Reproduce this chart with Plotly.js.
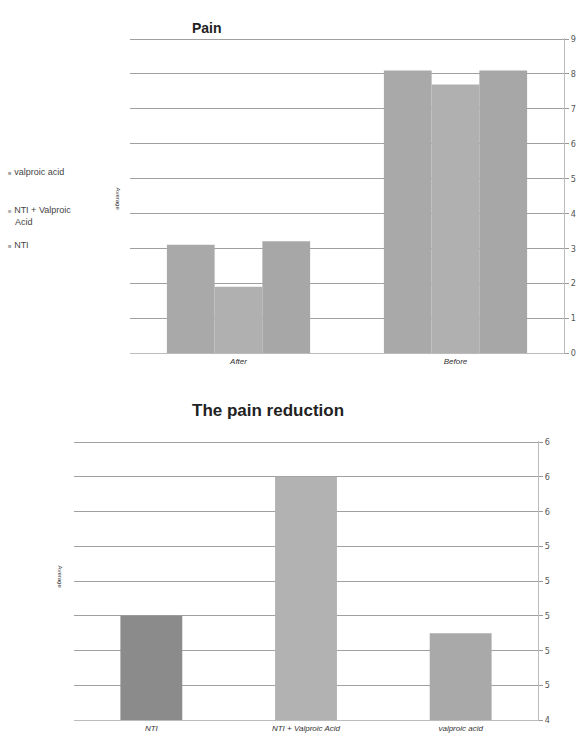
<!DOCTYPE html>
<html>
<head>
<meta charset="utf-8">
<script src="https://cdn.plot.ly/plotly-3.0.1.min.js"></script>
<style>html,body{margin:0;padding:0;background:#fff;}#chart{width:576px;height:741px;}</style>
</head>
<body>
<div id="chart"></div>
<script>
// Top chart: Pain (Average score)
const painCategories = ["After", "Before"];
const painNTI = [3.1, 8.1];
const painNTIVA = [1.9, 7.7];
const painVA = [3.2, 8.1];
const painSeriesNames = ["NTI", "NTI + Valproic<br>Acid", "valproic acid"];
const painTicks = [0, 1, 2, 3, 4, 5, 6, 7, 8, 9];

// Bottom chart: The pain reduction
const redCategories = ["NTI", "NTI + Valproic Acid", "valproic acid"];
const redValues = [5.0, 5.8, 4.9];
const redTicks = [4.4, 4.6, 4.8, 5.0, 5.2, 5.4, 5.6, 5.8, 6.0];

const topColors = ["#a9a9a9", "#b0b0b0", "#a7a7a7"];
const redColors = ["#8b8b8b", "#b2b2b2", "#a9a9a9"];

const traces = [
  {type: "bar", x: painCategories, y: painNTI, name: painSeriesNames[0], marker: {color: topColors[0]}, xaxis: "x", yaxis: "y"},
  {type: "bar", x: painCategories, y: painNTIVA, name: painSeriesNames[1], marker: {color: topColors[1]}, xaxis: "x", yaxis: "y"},
  {type: "bar", x: painCategories, y: painVA, name: painSeriesNames[2], marker: {color: topColors[2]}, xaxis: "x", yaxis: "y"},
  {type: "bar", x: redCategories, y: redValues, marker: {color: redColors}, xaxis: "x2", yaxis: "y2", width: 0.4}
];

const gridC = "#a0a0a0";
const tickFont = {family: "DejaVu Sans Condensed, Liberation Sans, sans-serif", size: 9, color: "#555"};
const catFont = {family: "Liberation Sans, Arial, sans-serif", size: 8, color: "#333", style: "italic"};
const legFont = {family: "Liberation Sans, Arial, sans-serif", size: 9, color: "#444"};

// legend entries drawn as text (top to bottom), Excel shows series in reverse order
const legendOrder = [2, 1, 0];
const legendY = [172, 210, 245];

const annotations = [
  {text: "<b>Pain</b>", xref: "paper", yref: "paper", x: 207/576, y: 1 - 18/741, showarrow: false, font: {family: "Liberation Sans, Arial, sans-serif", size: 14, color: "#222"}},
  {text: "<b>The pain reduction</b>", xref: "paper", yref: "paper", x: 268/576, y: 1 - 410/741, showarrow: false, font: {family: "Liberation Sans, Arial, sans-serif", size: 17, color: "#222"}},
  {text: "Average", xref: "paper", yref: "paper", x: 113/576, y: 1 - 185/741, showarrow: false, textangle: 90, font: {family: "Liberation Sans, Arial, sans-serif", size: 6, color: "#333"}},
  {text: "Average", xref: "paper", yref: "paper", x: 55/576, y: 1 - 590/741, showarrow: false, textangle: 90, font: {family: "Liberation Sans, Arial, sans-serif", size: 6, color: "#333"}}
];
legendOrder.forEach((idx, k) => {
  annotations.push({
    text: "<span style='color:" + topColors[idx] + ";font-size:6px'>■</span> " + painSeriesNames[idx].replace("<br>", "<br>   "),
    xref: "paper", yref: "paper", x: 6/576, y: 1 - legendY[k]/741, xanchor: "left", yanchor: "middle",
    yshift: painSeriesNames[idx].indexOf("<br>") >= 0 ? -6 : 0,
    showarrow: false, align: "left", font: legFont
  });
});

const layout = {
  width: 576, height: 741,
  margin: {l: 0, r: 0, t: 0, b: 0},
  paper_bgcolor: "#fff", plot_bgcolor: "#fff",
  barmode: "group", bargap: 0.34, bargroupgap: 0,
  showlegend: false,
  xaxis: {domain: [130/576, 564/576], anchor: "y", tickfont: catFont, showline: true, linecolor: "#bbb", ticks: "", automargin: false},
  yaxis: {domain: [1 - 353/741, 1 - 38/741], anchor: "x", side: "right", range: [0, 9.03], tickvals: painTicks, ticks: "outside", ticklen: 4, tickcolor: "#999",
          showgrid: true, gridcolor: gridC, gridwidth: 1, showline: true, linecolor: "#bbb", zeroline: false, tickfont: tickFont, automargin: false},
  xaxis2: {domain: [74/576, 538/576], anchor: "y2", tickfont: catFont, showline: true, linecolor: "#bbb", ticks: "", automargin: false},
  yaxis2: {domain: [1 - 720/741, 1 - 441/741], anchor: "x2", side: "right", range: [4.4, 6.006], tickvals: redTicks, tickformat: ".0f", ticks: "outside", ticklen: 4, tickcolor: "#999",
           showgrid: true, gridcolor: gridC, gridwidth: 1, showline: true, linecolor: "#bbb", zeroline: false, tickfont: tickFont, automargin: false},
  annotations: annotations
};

Plotly.newPlot("chart", traces, layout, {displayModeBar: false, staticPlot: true});
</script>
</body>
</html>
